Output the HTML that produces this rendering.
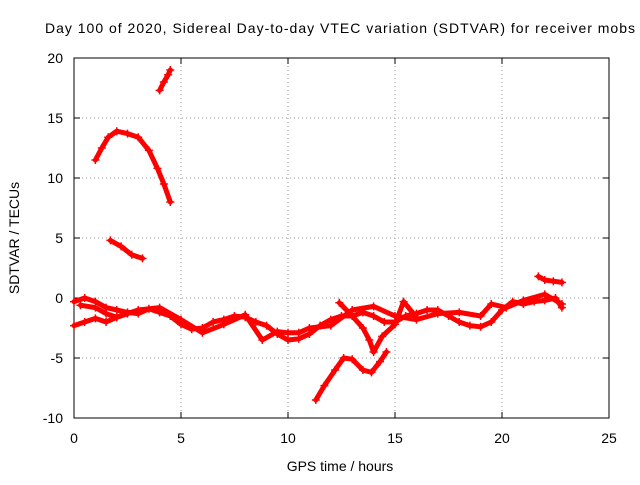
<!DOCTYPE html>
<html><head><meta charset="utf-8"><style>
body{margin:0;background:#fff;}
svg text{font-family:"Liberation Sans",sans-serif;font-size:14px;fill:#000;}
</style></head><body>
<svg id="chart" width="640" height="480">
<text x="45" y="33" textLength="590" lengthAdjust="spacing">Day 100 of 2020, Sidereal Day-to-day VTEC variation (SDTVAR) for receiver mobs</text>
<g id="grid"></g>
<g id="ticks"></g>
<rect x="74" y="58" width="535" height="360" fill="none" stroke="#000"/>
<g id="series"></g>
<text x="340" y="471" text-anchor="middle">GPS time / hours</text>
<text transform="translate(19,238) rotate(-90)" text-anchor="middle">SDTVAR / TECUs</text>
</svg>
<script>
const xTicks=[0,5,10,15,20,25];
const yTicks=[-10,-5,0,5,10,15,20];
const seriesTop=[[4.0,17.3],[4.2,18.0],[4.4,18.6],[4.5,19.0]];
const seriesArc=[[1.0,11.5],[1.3,12.5],[1.6,13.4],[2.0,13.9],[2.5,13.7],[3.0,13.4],[3.5,12.3],[3.9,10.8],[4.2,9.5],[4.5,8.0]];
const seriesMid=[[1.7,4.8],[2.2,4.3],[2.7,3.6],[3.2,3.3]];
const seriesLow=[[0,-2.3],[0.5,-2.0],[1.0,-1.7],[1.5,-2.0],[2.0,-1.6],[2.5,-1.3]];
const seriesMain=[[0,-0.3],[0.5,0],[1,-0.3],[1.5,-0.8],[2,-1.0],[2.5,-1.2],[3,-1.3],[3.5,-0.9],[4,-1.2],[4.5,-1.5],[5,-2.2],[5.5,-2.6],[6,-2.5],[6.5,-2.0],[7,-1.8],[7.5,-1.5],[8,-1.6],[8.5,-2.0],[9,-2.3],[9.5,-3.0],[10,-3.5],[10.5,-3.4],[11,-3.0],[11.5,-2.3],[12,-1.8],[12.5,-1.5],[13,-1.5],[13.5,-1.2],[14,-1.5],[14.5,-2.0],[15,-2.0],[15.5,-1.5],[16,-1.3],[16.5,-1.0],[17,-1.0],[17.5,-1.5],[18,-2.0],[18.5,-2.3],[19,-2.4],[19.5,-2.0],[20,-1.0],[20.5,-0.3],[21,-0.5],[21.5,-0.3],[22,-0.2],[22.5,0],[22.8,-0.8]];
const seriesMain2=[[0.3,-0.6],[1,-0.8],[1.5,-1.3],[2,-1.6],[3,-1.0],[4,-0.8],[5,-1.8],[6,-2.9],[7,-2.2],[8,-1.4],[8.8,-3.5],[9.5,-2.8],[10,-2.9],[10.5,-2.9],[11,-2.5],[12,-2.3],[13,-1.0],[14,-0.7],[15,-1.5],[16,-1.8],[17,-1.3],[18,-1.2],[19,-1.5],[19.5,-0.5],[20.2,-0.8],[21,-0.2],[22,0.3],[22.8,-0.5]];
const seriesDip=[[11.3,-8.5],[11.7,-7.3],[12.2,-6.0],[12.6,-5.0],[13.0,-5.1],[13.5,-6.0],[13.9,-6.2],[14.3,-5.3],[14.6,-4.5]];
const seriesSpike=[[12.4,-0.4],[13,-1.5],[13.5,-2.5],[13.8,-3.5],[14.0,-4.5],[14.4,-3.2],[15.0,-2.2],[15.4,-0.3],[16,-1.6]];
const seriesEnd=[[21.7,1.8],[22.0,1.5],[22.4,1.4],[22.8,1.3]];
const allSeries=[seriesTop,seriesArc,seriesMid,seriesLow,seriesMain,seriesMain2,seriesDip,seriesSpike,seriesEnd];
const NS='http://www.w3.org/2000/svg';
const X=v=>74+v*21.4, Y=v=>418-(v+10)*12;
const grid=document.getElementById('grid'),ticks=document.getElementById('ticks'),sg=document.getElementById('series');
function mk(t,a,p){const e=document.createElementNS(NS,t);for(const k in a)e.setAttribute(k,a[k]);p.appendChild(e);return e;}
xTicks.forEach(v=>{
 if(v>0&&v<25){const g=mk('line',{x1:X(v),x2:X(v),y1:58,y2:418,stroke:'#999','stroke-dasharray':'1,3'},grid);
 
 }
 mk('line',{x1:X(v),x2:X(v),y1:418,y2:412,stroke:'#000'},ticks);
 mk('line',{x1:X(v),x2:X(v),y1:58,y2:64,stroke:'#000'},ticks);
 const t=mk('text',{x:X(v),y:443,'text-anchor':'middle'},ticks);t.textContent=v;
 
 
});
yTicks.forEach(v=>{
 if(v>-10&&v<20){const g=mk('line',{x1:74,x2:609,y1:Y(v),y2:Y(v),stroke:'#999','stroke-dasharray':'1,3'},grid);
 
 }
 mk('line',{x1:74,x2:80,y1:Y(v),y2:Y(v),stroke:'#000'},ticks);
 mk('line',{x1:603,x2:609,y1:Y(v),y2:Y(v),stroke:'#000'},ticks);
 const t=mk('text',{x:63,y:Y(v)+5,'text-anchor':'end'},ticks);t.textContent=v;
 
 
});
allSeries.forEach(s=>{
 const pl=mk('polyline',{points:s.map(p=>X(p[0])+','+Y(p[1])).join(' '),fill:'none',stroke:'#f00','stroke-width':5,'stroke-linejoin':'round','stroke-linecap':'round'},sg);
 
 
 s.forEach(p=>{const x=X(p[0]),y=Y(p[1]);
  const m=mk('path',{d:`M${x-4},${y}H${x+4}M${x},${y-4}V${y+4}`,stroke:'#f00','stroke-width':1.5},sg);
  
  });
});
</script>
</body></html>
